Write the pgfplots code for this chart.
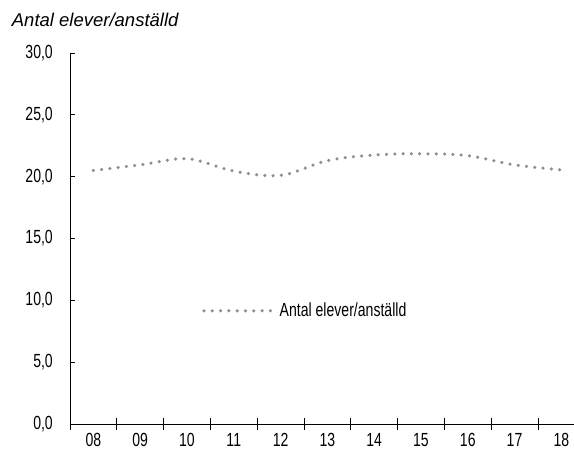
\documentclass[border=0pt]{standalone}
\usepackage{fontspec}
\setmainfont{Liberation Sans}[FakeStretch=0.74]
\newfontfamily\titlefont{Liberation Sans}
\usepackage{pgfplots}
\pgfplotsset{compat=1.18}

\definecolor{dotgray}{RGB}{142,142,142}

\begin{document}
\begin{tikzpicture}
\begin{axis}[
    at={(0pt,0pt)}, anchor=south west,
    scale only axis,
    width=504pt, height=371pt,
    axis lines=left,
    axis line style={-, line width=0.9pt},
    xmin=-0.5, xmax=10.27,
    ymin=0, ymax=30,
    xtick={0,...,10},
    xticklabels={08,09,10,11,12,13,14,15,16,17,18},
    minor xtick={-0.5,0.5,...,9.5},
    ytick={0,5,...,30},
    tick align=inside,
    major tick length=5pt,
    minor tick length=12pt,
    x tick style={draw=none},
    minor x tick style={draw=black, line width=0.8pt, yshift=-6pt},
    y tick style={black, line width=0.8pt},
    tick label style={font=\fontsize{19}{22}\selectfont},
    yticklabel style={anchor=east, inner sep=0pt, xshift=-17pt},
    xticklabel style={anchor=north, inner sep=0pt, yshift=-9pt},
    /pgf/number format/.cd, fixed, fixed zerofill, precision=1, use comma, assume math mode=true,
    /pgfplots/.cd,
    legend style={at={(rel axis cs:0.262,0.305)}, anchor=west, draw=none, fill=none,
        inner sep=0pt, font=\fontsize{19}{22}\selectfont},
    legend cell align=left,
    legend image code/.code={\draw[#1] (0pt,0pt) -- (67pt,0pt);},
    clip=false,
]
\addplot[color=dotgray, line width=3.5pt, line cap=round,
         dash pattern=on 0pt off 8.3pt, smooth, tension=0.55]
    coordinates {
    (0,20.5)(1,20.95)(2,21.45)(3,20.45)(4,20.1)(5,21.3)
    (6,21.75)(7,21.85)(8,21.7)(9,20.95)(10,20.55)
    };
\addlegendentry{\hspace*{5pt}Antal elever/anställd}
\end{axis}
\node[anchor=base west, inner sep=0pt, font=\titlefont\itshape\fontsize{18.5}{22}\selectfont]
    at (-58.3pt,397pt) {Antal elever/anställd};
\pgfresetboundingbox
\path[use as bounding box] (-70pt,-30pt) rectangle (504pt,424pt);
\end{tikzpicture}
\end{document}
